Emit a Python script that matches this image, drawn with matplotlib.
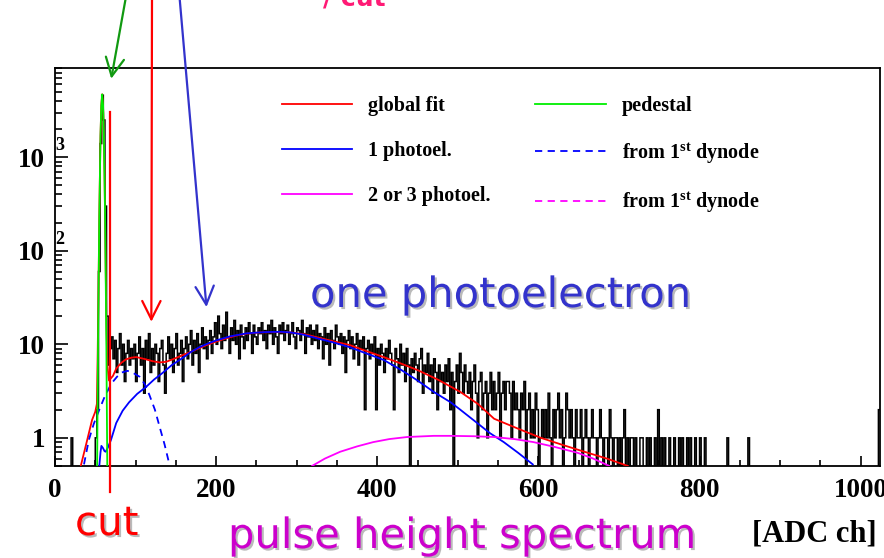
import numpy as np
import matplotlib
matplotlib.use("Agg")
import matplotlib.pyplot as plt
import matplotlib.patheffects as pe
from matplotlib.lines import Line2D

plt.rcParams['font.family'] = ['Liberation Serif', 'DejaVu Serif']
plt.rcParams['font.weight'] = 'bold'
plt.rcParams['mathtext.fontset'] = 'custom'
plt.rcParams['mathtext.rm'] = 'Liberation Serif:bold'
plt.rcParams['mathtext.bf'] = 'Liberation Serif:bold'
plt.rcParams['mathtext.it'] = 'Liberation Serif:bold:italic'

# ADC histogram, 2 channels per bin (0..1024), one row = 32 channels
bin_width = 2
counts = [
    0, 0, 0, 0, 0, 0, 0, 0, 0, 0, 1, 0, 0, 0, 0, 0,
    0, 0, 0, 0, 0, 0, 0, 0, 0, 1, 2, 60, 1400, 4600, 2500, 300,
    20, 6, 9, 12, 7, 11, 5, 9, 13, 6, 10, 4, 8, 11, 6, 9,
    7, 10, 4, 8, 12, 6, 9, 3, 11, 7, 13, 5, 9, 6, 10, 8,
    4, 9, 11, 6, 3, 8, 12, 7, 10, 5, 9, 13, 6, 8, 11, 4,
    9, 12, 7, 10, 14, 6, 11, 8, 13, 5, 10, 15, 9, 12, 7, 11,
    14, 8, 12, 17, 10, 20, 13, 9, 16, 11, 22, 12, 8, 15, 11, 18,
    10, 14, 7, 16, 12, 9, 15, 11, 17, 13, 8, 16, 12, 10, 15, 13,
    17, 11, 14, 9, 16, 13, 18, 10, 15, 12, 8, 16, 13, 17, 11, 14,
    16, 10, 13, 17, 12, 9, 15, 14, 11, 18, 13, 8, 15, 12, 16, 10,
    14, 11, 16, 9, 13, 12, 7, 15, 10, 13, 6, 14, 11, 9, 16, 12,
    10, 13, 8, 12, 5, 11, 14, 9, 12, 7, 10, 13, 6, 11, 9, 12,
    2, 9, 11, 7, 10, 8, 12, 2, 9, 6, 10, 8, 5, 9, 7, 11,
    8, 6, 2, 9, 7, 5, 10, 6, 8, 4, 9, 6, 0, 7, 5, 8,
    6, 4, 7, 9, 3, 6, 5, 8, 4, 6, 3, 7, 5, 2, 6, 4,
    5, 3, 6, 4, 7, 2, 5, 0, 4, 6, 3, 8, 5, 3, 6, 4,
    3, 5, 2, 4, 6, 3, 1, 4, 5, 2, 3, 4, 1, 3, 5, 2,
    4, 2, 3, 5, 1, 3, 4, 2, 4, 4, 3, 1, 4, 2, 3, 2,
    1, 3, 2, 4, 0, 2, 3, 1, 2, 1, 3, 2, 0, 1, 2, 1,
    2, 1, 3, 1, 0, 2, 1, 2, 3, 1, 2, 0, 1, 3, 2, 1,
    2, 1, 0, 2, 1, 1, 2, 0, 1, 2, 1, 0, 1, 2, 1, 1,
    0, 1, 2, 1, 0, 1, 1, 0, 2, 1, 0, 1, 1, 0, 1, 0,
    1, 2, 0, 1, 0, 1, 1, 0, 1, 0, 0, 1, 1, 0, 0, 1,
    0, 1, 0, 0, 1, 0, 2, 0, 1, 0, 1, 0, 0, 1, 0, 0,
    1, 0, 0, 1, 0, 1, 0, 0, 1, 0, 1, 0, 0, 1, 0, 0,
    1, 0, 0, 1, 0, 0, 0, 0, 0, 0, 0, 0, 0, 0, 0, 0,
    0, 1, 0, 0, 0, 0, 0, 0, 0, 0, 0, 0, 0, 0, 1, 0,
    0, 0, 0, 0, 0, 0, 0, 0, 0, 0, 0, 0, 0, 0, 0, 0,
    0, 0, 0, 0, 0, 0, 0, 0, 0, 0, 0, 0, 0, 0, 0, 0,
    0, 0, 0, 0, 0, 0, 0, 0, 0, 0, 0, 0, 0, 0, 0, 0,
    0, 0, 0, 0, 0, 0, 0, 0, 0, 0, 0, 0, 0, 0, 0, 0,
    0, 0, 0, 0, 0, 0, 0, 0, 0, 0, 0, 0, 0, 0, 0, 2,
]

# fit curves (ADC ch, counts)
fit_x = [32, 40, 46, 50, 52, 53, 54, 55, 56.5, 57.5, 58.6, 60, 61.5, 63, 64, 65, 67,
         72, 76, 82, 88, 95, 101, 107, 113, 121, 130, 138, 146, 156, 167, 178, 188,
         200, 213, 225, 238, 255, 275, 292, 310, 325, 345, 366, 386, 408, 430, 450,
         475, 503, 525, 545, 575, 603, 630, 657, 685, 711]
fit_y = [0.5, 0.95, 1.55, 1.9, 2.3, 8, 37, 236, 1700, 3560, 4700, 2970, 680, 58, 14, 6, 4.1,
         4.6, 5.5, 6.3, 6.9, 7.2, 7.3, 7.1, 6.9, 6.6, 6.4, 6.5, 6.9, 7.5, 8.2, 9.0, 9.8,
         10.7, 11.6, 12.4, 13.0, 13.4, 13.5, 13.4, 12.8, 11.9, 10.8, 9.8, 8.5, 7.3, 6.2, 5.3,
         4.2, 3.1, 2.3, 1.6, 1.25, 1.0, 0.84, 0.71, 0.6, 0.5]

one_pe_x = [55, 56.5, 57.6, 59.5, 61.5, 63, 66, 69.5, 76, 84, 92, 102, 113, 123, 133, 145,
            158, 168, 179, 190, 200, 218, 238, 260, 280, 292, 308, 325, 345, 366, 386,
            408, 430, 450, 470, 491, 503, 524, 540, 557, 575, 593]
one_pe_y = [0.5, 0.7, 0.82, 0.78, 0.72, 0.71, 0.8, 0.95, 1.44, 1.95, 2.4, 2.95, 3.5, 4.2,
            4.9, 6.0, 7.1, 8.2, 9.3, 10.2, 11.0, 12.2, 13.1, 13.5, 13.6, 13.4, 12.7, 11.6,
            10.5, 9.3, 8.0, 6.8, 5.3, 4.1, 3.1, 2.4, 2.0, 1.44, 1.12, 0.9, 0.69, 0.52]

dyn1_x = [36, 42, 48, 55, 62, 70, 77, 83, 90, 96, 105, 111, 117, 124, 130, 136, 142]
dyn1_y = [0.52, 0.95, 1.4, 2.0, 2.8, 3.8, 4.5, 5.0, 5.2, 5.0, 4.5, 3.8, 2.9, 2.0, 1.3, 0.85, 0.52]

multi_pe_x = [319, 335, 354, 375, 395, 415, 437, 470, 491, 520, 545, 570, 594, 620, 649, 668, 688]
multi_pe_y = [0.5, 0.6, 0.71, 0.81, 0.9, 0.97, 1.02, 1.05, 1.05, 1.04, 1.02, 0.97, 0.9, 0.8,
              0.69, 0.6, 0.5]

ped_x = [52.3, 53.5, 55, 56.5, 57.5, 58.6, 59.7, 60.7, 62.2, 63.7, 64.9]
ped_y = [0.5, 11.7, 233, 1700, 3560, 4700, 3560, 1700, 233, 11.7, 0.5]

cut_x = 68.5

fig = plt.figure(figsize=(8.84, 5.58), dpi=100)
ax = fig.add_axes([0.0622, 0.1649, 0.9333, 0.7133])

edges = np.arange(0, 1024 + bin_width, bin_width)
vals = np.array(counts, dtype=float)
vals = np.where(vals > 0, vals, 1e-3)
ax.stairs(vals, edges, baseline=None, color='black', lw=1.1, zorder=2)

l_fit, = ax.plot(fit_x, fit_y, color='#ff0000', lw=1.3, zorder=3)
l_1pe, = ax.plot(one_pe_x, one_pe_y, color='#0000ff', lw=1.3, zorder=3)
l_dyn, = ax.plot(dyn1_x, dyn1_y, color='#0000ff', lw=1.3, ls=(0, (4, 3)), zorder=3)
l_mpe, = ax.plot(multi_pe_x, multi_pe_y, color='#ff00ff', lw=1.3, zorder=3)
l_mdyn = Line2D([], [], color='#ff00ff', lw=1.3, ls=(0, (4, 3)))
l_ped, = ax.plot(ped_x, ped_y, color='#00ee00', lw=1.3, zorder=4)

ax.set_yscale('log')
ax.set_xlim(0, 1024)
ax.set_ylim(0.5, 9000)

ax.set_xticks([0, 200, 400, 600, 800, 1000])
ax.set_xticks(np.arange(50, 1024, 50), minor=True)
ax.set_yticks([1, 10, 100, 1000])
ax.set_yticklabels(['1', '10', '10', '10'])
ax.tick_params(axis='both', which='both', direction='in', labelsize=19.5, width=1.2)
ax.tick_params(axis='x', which='major', length=7.5, pad=9)
ax.tick_params(axis='x', which='minor', length=4)
ax.tick_params(axis='y', which='major', length=9, pad=7)
ax.tick_params(axis='y', which='minor', length=5)
for s in ax.spines.values():
    s.set_linewidth(1.3)

for val, sup in [(100, '2'), (1000, '3')]:
    ax.annotate(sup, xy=(0, val), xycoords=('axes fraction', 'data'),
                xytext=(0.5, 5), textcoords='offset points',
                ha='left', va='baseline', fontsize=13, fontweight='bold')

# cut line
ax.plot([cut_x, cut_x], [-0.065, 0.889], color='#ff0000', lw=1.6,
        transform=ax.get_xaxis_transform(), clip_on=False, zorder=5)

handles = [l_fit, l_1pe, l_mpe, l_ped, l_dyn, l_mdyn]
labels = ['global fit', '1 photoel.', '2 or 3 photoel.', 'pedestal',
          r'from 1$^{\mathrm{st}}$ dynode', r'from 1$^{\mathrm{st}}$ dynode']
ax.legend(handles, labels, ncol=2, loc='upper left', bbox_to_anchor=(0.275, 0.93),
          frameon=False, fontsize=14.5, handlelength=3.5, handletextpad=0.8,
          columnspacing=2.2, labelspacing=1.25, borderpad=0, borderaxespad=0)

# arrows from above the frame
arrow_kw = dict(xycoords='data', textcoords='figure fraction', annotation_clip=False)
for tip, tail_x, col in [((69.8, 6900), 126.4, '#119911'),
                         ((119.6, 17.4), 152, '#ff0000'),
                         ((188, 25), 179.3, '#3333cc')]:
    ax.annotate('', xy=tip, xytext=(tail_x / 884, 1.01),
                arrowprops=dict(arrowstyle='->,head_length=1.1,head_width=0.55',
                                color=col, lw=1.6, mutation_scale=12,
                                shrinkA=0, shrinkB=0), **arrow_kw)

shadow = [pe.withSimplePatchShadow(offset=(1.5, -1.5), shadow_rgbFace='0.55', alpha=0.6)]
sans = ['DejaVu Sans']
fig.text(310 / 884, 1 - 307 / 558, 'one photoelectron', color='#3333cc', fontsize=30,
         family=sans, fontweight='normal', va='baseline', path_effects=shadow)
fig.text(228 / 884, 1 - 548 / 558, 'pulse height spectrum', color='#cc00cc', fontsize=30,
         family=sans, fontweight='normal', va='baseline', path_effects=shadow)
fig.text(75 / 884, 1 - 535 / 558, 'cut', color='#ff0000', fontsize=29,
         family=sans, fontweight='normal', va='baseline', path_effects=shadow)
fig.text(323 / 884, 1 - 5 / 558, '/ cut', color='#ff1a75', fontsize=18,
         family=sans, fontweight='bold', va='baseline')
fig.text(752 / 884, 1 - 542 / 558, '[ADC ch]', fontsize=22, fontweight='bold', va='baseline')

fig.savefig('out.png', dpi=100)
